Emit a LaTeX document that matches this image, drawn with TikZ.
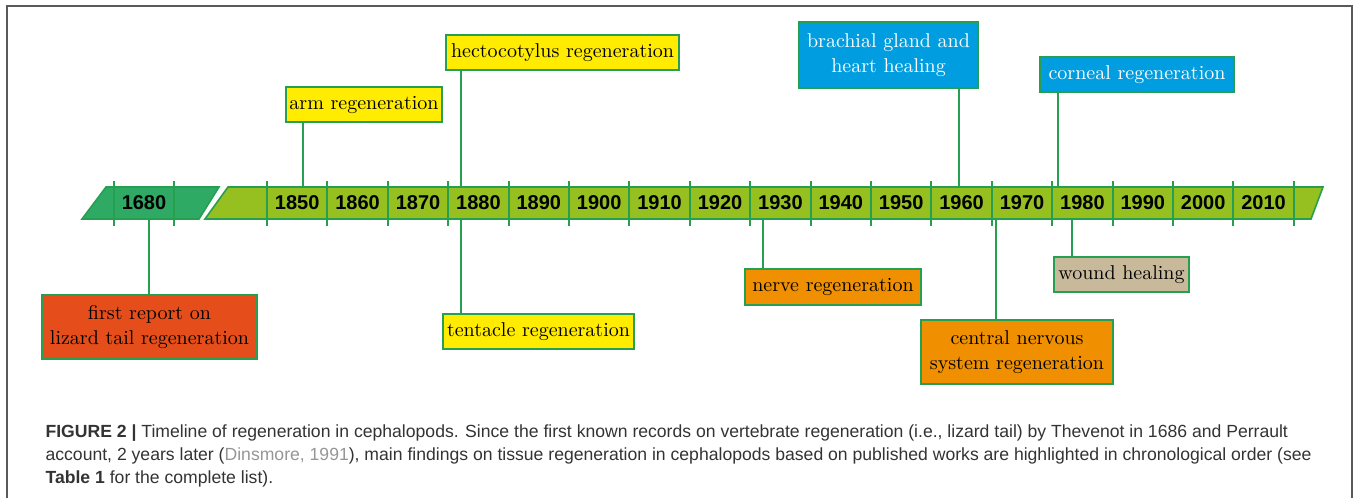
\documentclass[tikz,border=0pt]{standalone}
\usepackage{fontspec}
\newfontfamily\captionfont{Liberation Sans}
\usepackage{tikz}
\usetikzlibrary{calc}

\definecolor{linegreen}{RGB}{38,160,80}
\definecolor{oldgreen}{RGB}{46,170,100}
\definecolor{newgreen}{RGB}{150,192,32}
\definecolor{evyellow}{RGB}{255,236,0}
\definecolor{evred}{RGB}{229,78,27}
\definecolor{evorange}{RGB}{240,144,0}
\definecolor{evtan}{RGB}{200,185,155}
\definecolor{evblue}{RGB}{0,158,224}
\definecolor{citegray}{RGB}{150,150,150}
\definecolor{framegray}{RGB}{90,90,90}

\begin{document}
\begin{tikzpicture}[x = 0.5pt, y = -0.5pt,
                    semithick,
                    event/.style = {draw = linegreen, line width = 1pt, inner sep = 0pt,
                                    align = center, font = \fontsize{10}{12.5}\selectfont},
                    year/.style = {font = \captionfont\bfseries\fontsize{10}{12}\selectfont},
                    tick/.style = {draw = linegreen, line width = 1pt}]
    \useasboundingbox (0,0) rectangle (1358,498);

    % Draw the frame round figure and caption:
    \draw [framegray, line width = 1pt] (7,498) -- (7,6) -- (1352,6) -- (1352,498);

    % Draw the two pieces of the time line:
    \draw [fill = oldgreen, draw = linegreen, line width = 0.8pt]
        (82,219) -- (106,187) -- (219,187) -- (199,219) -- cycle;
    \draw [fill = newgreen, draw = linegreen, line width = 0.8pt]
        (205,219) -- (228,187) -- (1323,187) -- (1311,219) -- cycle;

    % Draw the ticks and the years:
    \foreach \x in {114, 174}
        \draw [tick] (\x,181) -- (\x,226);
    \node [year] (y1680) at (144,203) {1680};
    \foreach \i in {0, ..., 17}
        \draw [tick] ({267+60.4*\i},181) -- ({267+60.4*\i},226);
    \foreach \yr [count = \i from 0] in {1850, 1860, ..., 2010}
        \node [year] (y\yr) at ({297.2+60.4*\i},203) {\yr};

    % Draw the findings above the time line:
    \node [event, fill = evyellow, minimum width = 78pt, minimum height = 17.5pt]
        (arm) at (364,104.5) {arm regeneration};
    \node [event, fill = evyellow, minimum width = 116.5pt, minimum height = 17.5pt]
        (hecto) at (562.5,52.5) {hectocotylus regeneration};
    \node [event, fill = evblue, text = white, minimum width = 89.5pt, minimum height = 33pt]
        (brachial) at (888.5,55) {brachial gland and\\heart healing};
    \node [event, fill = evblue, text = white, minimum width = 97pt, minimum height = 17.5pt]
        (corneal) at (1137,74.5) {corneal regeneration};

    % Draw the findings below the time line:
    \node [event, fill = evred, minimum width = 107.5pt, minimum height = 32pt]
        (first) at (149.5,327) {first report on\\lizard tail regeneration};
    \node [event, fill = evyellow, minimum width = 95.5pt, minimum height = 17.5pt]
        (tentacle) at (538.5,331.5) {tentacle regeneration};
    \node [event, fill = evorange, minimum width = 88pt, minimum height = 18pt]
        (nerve) at (833,287) {nerve regeneration};
    \node [event, fill = evorange, minimum width = 96pt, minimum height = 32pt]
        (cns) at (1017,352) {central nervous\\system regeneration};
    \node [event, fill = evtan, minimum width = 67.5pt, minimum height = 17.5pt]
        (wound) at (1121.5,274.5) {wound healing};

    % Connect the findings to the time line:
    \foreach \name/\x/\y/\side in {arm/303/187/south, hecto/461/187/south,
                                   brachial/959/187/south, corneal/1058/187/south,
                                   first/149/219/north, tentacle/461/219/north,
                                   nerve/763/219/north, cns/996/219/north,
                                   wound/1072/219/north} {
        \coordinate (\name-t) at (\x,\y);
        \draw [linegreen, line width = 1pt] (\name-t) -- (\name-t |- \name.\side);
    }

    % Draw the caption:
    \node [anchor = north west, align = left, inner sep = 0pt, text = black!80,
           font = \captionfont\fontsize{8.8}{11.5}\selectfont] (caption) at (45,424)
        {\textbf{FIGURE 2 |} Timeline of regeneration in cephalopods. Since the first known records on vertebrate regeneration (i.e., lizard tail) by Thevenot in 1686 and Perrault\\
         account, 2 years later ({\color{citegray}Dinsmore, 1991}), main findings on tissue regeneration in cephalopods based on published works are highlighted in chronological order (see\\
         \textbf{Table 1} for the complete list).};
\end{tikzpicture}
\end{document}
